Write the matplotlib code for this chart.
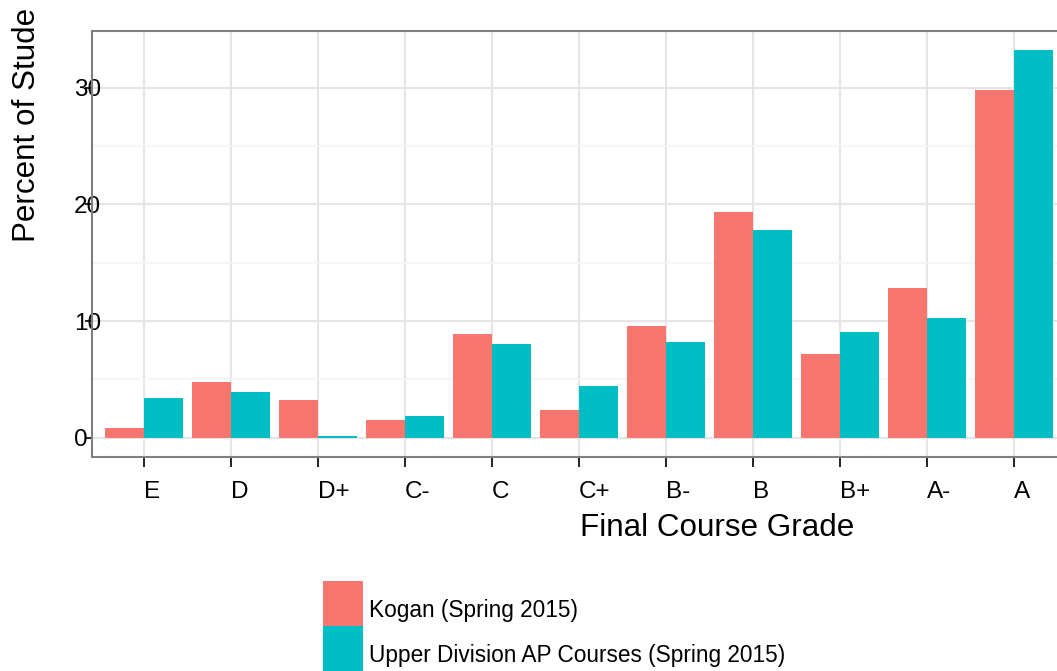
import numpy as np
import matplotlib.pyplot as plt
from matplotlib.patches import Rectangle

# --- dados ---
notas = ["E", "D", "D+", "C-", "C", "C+", "B-", "B", "B+", "A-", "A"]
kogan = [0.86, 4.77, 3.26, 1.52, 8.89, 2.37, 9.57, 19.34, 7.17, 12.83, 29.79]
upper_div = [3.43, 3.92, 0.17, 1.86, 8.03, 4.43, 8.20, 17.80, 9.06, 10.26, 33.22]
serie_nomes = ["Kogan (Spring 2015)", "Upper Division AP Courses (Spring 2015)"]

COR_KOGAN = "#F8766D"
COR_UPPER = "#00BFC4"

plt.rcParams['font.family'] = ['Liberation Sans', 'DejaVu Sans']

W, H = 1057, 671
fig = plt.figure(figsize=(W / 100, H / 100), dpi=100)

# painel (estilo ggplot theme_bw), cortado na direita como no original
ax = fig.add_axes([92 / W, (H - 457) / H, (1066 - 92) / W, (457 - 31) / H])

x = np.arange(len(notas))
larg = 0.45
ax.bar(x - larg / 2, kogan, width=larg, color=COR_KOGAN, zorder=3)
ax.bar(x + larg / 2, upper_div, width=larg, color=COR_UPPER, zorder=3)

ax.set_xlim(-0.6, 10.6)
ax.set_ylim(-1.66, 34.88)

ax.set_xticks(x)
ax.set_xticklabels(notas, ha='left', fontsize=17.5)
ax.set_yticks([0, 10, 20, 30])
ax.set_yticklabels(["0", "10", "20", "30"], ha='left', fontsize=17.5)
ax.set_yticks([5, 15, 25], minor=True)

ax.tick_params(axis='x', length=7, width=1.2, color='black', pad=10.5)
ax.tick_params(axis='y', length=5, width=1.2, color='black', pad=8)
ax.tick_params(axis='y', which='minor', length=0)

ax.grid(True, which='major', color='#E5E5E5', linewidth=1.5, zorder=0)
ax.grid(True, which='minor', axis='y', color='#F5F5F5', linewidth=1.2, zorder=0)
ax.set_axisbelow(True)
for sp in ax.spines.values():
    sp.set_color('#7F7F7F')
    sp.set_linewidth(1.5)

# titulos dos eixos (posicao igual ao recorte original)
fig.text(580 / W, (H - 536) / H, "Final Course Grade", fontsize=22.6,
         ha='left', va='baseline')
fig.text(27 / W, (H - 242) / H, "Percent of Stude", fontsize=22.6,
         rotation=90, ha='center', va='bottom')

# legenda desenhada a mao (chaves encostadas, como no ggplot)
cores = [COR_KOGAN, COR_UPPER]
topos = [581, 626]
bases_txt = [617, 662]
for cor, topo, base, nome in zip(cores, topos, bases_txt, serie_nomes):
    fig.patches.append(Rectangle((323 / W, (H - topo - 45) / H), 40 / W, 45 / H,
                                 transform=fig.transFigure, facecolor=cor,
                                 edgecolor='none'))
    fig.text(369 / W, (H - base) / H, nome, fontsize=16.3,
             ha='left', va='baseline')

fig.savefig("out.png", dpi=100)
